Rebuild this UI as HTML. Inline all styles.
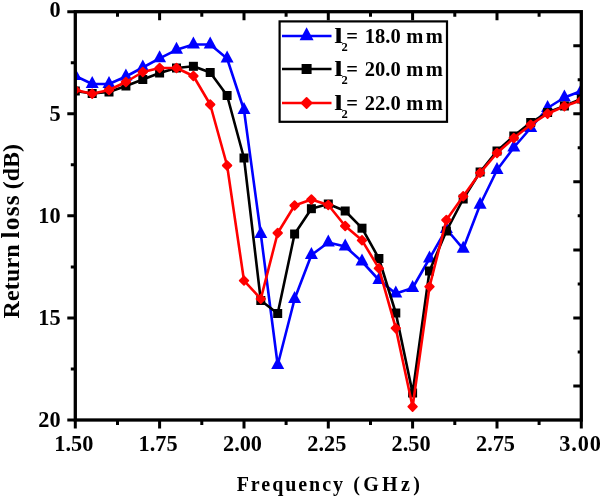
<!DOCTYPE html>
<html><head><meta charset="utf-8"><title>Return loss</title>
<style>html,body{margin:0;padding:0;background:#fff}svg{display:block}</style></head>
<body><svg width="600" height="499" viewBox="0 0 600 499">
<defs><clipPath id="pc"><rect x="75.3" y="11.7" width="505.99999999999994" height="408.3"/></clipPath></defs>
<rect width="600" height="499" fill="#fff"/>
<g clip-path="url(#pc)">
<polyline points="75.3,76.0 92.2,84.0 109.0,84.0 125.9,76.5 142.8,67.5 159.6,58.3 176.5,49.8 193.4,44.5 210.2,44.5 227.1,58.5 244.0,110.0 260.8,234.0 277.7,365.0 294.6,299.0 311.4,255.0 328.3,242.5 345.2,246.5 362.0,261.5 378.9,280.0 395.8,293.5 412.6,288.0 429.5,258.5 446.4,229.0 463.2,248.8 480.1,204.8 497.0,170.0 513.8,147.5 530.7,128.0 547.6,108.0 564.4,97.5 581.3,91.0" fill="none" stroke="#0000ff" stroke-width="2.6" stroke-linejoin="round"/>
<polygon points="75.3,68.0 68.8,80.0 81.8,80.0" fill="#0000ff"/>
<polygon points="92.2,76.0 85.7,88.0 98.7,88.0" fill="#0000ff"/>
<polygon points="109.0,76.0 102.5,88.0 115.5,88.0" fill="#0000ff"/>
<polygon points="125.9,68.5 119.4,80.5 132.4,80.5" fill="#0000ff"/>
<polygon points="142.8,59.5 136.3,71.5 149.3,71.5" fill="#0000ff"/>
<polygon points="159.6,50.3 153.1,62.3 166.1,62.3" fill="#0000ff"/>
<polygon points="176.5,41.8 170.0,53.8 183.0,53.8" fill="#0000ff"/>
<polygon points="193.4,36.5 186.9,48.5 199.9,48.5" fill="#0000ff"/>
<polygon points="210.2,36.5 203.7,48.5 216.7,48.5" fill="#0000ff"/>
<polygon points="227.1,50.5 220.6,62.5 233.6,62.5" fill="#0000ff"/>
<polygon points="244.0,102.0 237.5,114.0 250.5,114.0" fill="#0000ff"/>
<polygon points="260.8,226.0 254.3,238.0 267.3,238.0" fill="#0000ff"/>
<polygon points="277.7,357.0 271.2,369.0 284.2,369.0" fill="#0000ff"/>
<polygon points="294.6,291.0 288.1,303.0 301.1,303.0" fill="#0000ff"/>
<polygon points="311.4,247.0 304.9,259.0 317.9,259.0" fill="#0000ff"/>
<polygon points="328.3,234.5 321.8,246.5 334.8,246.5" fill="#0000ff"/>
<polygon points="345.2,238.5 338.7,250.5 351.7,250.5" fill="#0000ff"/>
<polygon points="362.0,253.5 355.5,265.5 368.5,265.5" fill="#0000ff"/>
<polygon points="378.9,272.0 372.4,284.0 385.4,284.0" fill="#0000ff"/>
<polygon points="395.8,285.5 389.3,297.5 402.3,297.5" fill="#0000ff"/>
<polygon points="412.6,280.0 406.1,292.0 419.1,292.0" fill="#0000ff"/>
<polygon points="429.5,250.5 423.0,262.5 436.0,262.5" fill="#0000ff"/>
<polygon points="446.4,221.0 439.9,233.0 452.9,233.0" fill="#0000ff"/>
<polygon points="463.2,240.8 456.7,252.8 469.7,252.8" fill="#0000ff"/>
<polygon points="480.1,196.8 473.6,208.8 486.6,208.8" fill="#0000ff"/>
<polygon points="497.0,162.0 490.5,174.0 503.5,174.0" fill="#0000ff"/>
<polygon points="513.8,139.5 507.3,151.5 520.3,151.5" fill="#0000ff"/>
<polygon points="530.7,120.0 524.2,132.0 537.2,132.0" fill="#0000ff"/>
<polygon points="547.6,100.0 541.1,112.0 554.1,112.0" fill="#0000ff"/>
<polygon points="564.4,89.5 557.9,101.5 570.9,101.5" fill="#0000ff"/>
<polygon points="581.3,83.0 574.8,95.0 587.8,95.0" fill="#0000ff"/>
<polyline points="75.3,91.0 92.2,93.5 109.0,92.0 125.9,86.0 142.8,79.5 159.6,73.0 176.5,68.0 193.4,66.3 210.2,72.5 227.1,95.5 244.0,158.0 260.8,300.5 277.7,313.5 294.6,234.0 311.4,208.8 328.3,204.0 345.2,211.0 362.0,228.2 378.9,258.5 395.8,313.0 412.6,393.0 429.5,271.0 446.4,231.0 463.2,199.0 480.1,172.0 497.0,151.0 513.8,136.0 530.7,122.5 547.6,112.5 564.4,106.0 581.3,99.0" fill="none" stroke="#000000" stroke-width="2.6" stroke-linejoin="round"/>
<rect x="70.8" y="86.5" width="9" height="9" fill="#000000"/>
<rect x="87.7" y="89.0" width="9" height="9" fill="#000000"/>
<rect x="104.5" y="87.5" width="9" height="9" fill="#000000"/>
<rect x="121.4" y="81.5" width="9" height="9" fill="#000000"/>
<rect x="138.3" y="75.0" width="9" height="9" fill="#000000"/>
<rect x="155.1" y="68.5" width="9" height="9" fill="#000000"/>
<rect x="172.0" y="63.5" width="9" height="9" fill="#000000"/>
<rect x="188.9" y="61.8" width="9" height="9" fill="#000000"/>
<rect x="205.7" y="68.0" width="9" height="9" fill="#000000"/>
<rect x="222.6" y="91.0" width="9" height="9" fill="#000000"/>
<rect x="239.5" y="153.5" width="9" height="9" fill="#000000"/>
<rect x="256.3" y="296.0" width="9" height="9" fill="#000000"/>
<rect x="273.2" y="309.0" width="9" height="9" fill="#000000"/>
<rect x="290.1" y="229.5" width="9" height="9" fill="#000000"/>
<rect x="306.9" y="204.2" width="9" height="9" fill="#000000"/>
<rect x="323.8" y="199.5" width="9" height="9" fill="#000000"/>
<rect x="340.7" y="206.5" width="9" height="9" fill="#000000"/>
<rect x="357.5" y="223.7" width="9" height="9" fill="#000000"/>
<rect x="374.4" y="254.0" width="9" height="9" fill="#000000"/>
<rect x="391.3" y="308.5" width="9" height="9" fill="#000000"/>
<rect x="408.1" y="388.5" width="9" height="9" fill="#000000"/>
<rect x="425.0" y="266.5" width="9" height="9" fill="#000000"/>
<rect x="441.9" y="226.5" width="9" height="9" fill="#000000"/>
<rect x="458.7" y="194.5" width="9" height="9" fill="#000000"/>
<rect x="475.6" y="167.5" width="9" height="9" fill="#000000"/>
<rect x="492.5" y="146.5" width="9" height="9" fill="#000000"/>
<rect x="509.3" y="131.5" width="9" height="9" fill="#000000"/>
<rect x="526.2" y="118.0" width="9" height="9" fill="#000000"/>
<rect x="543.1" y="108.0" width="9" height="9" fill="#000000"/>
<rect x="559.9" y="101.5" width="9" height="9" fill="#000000"/>
<rect x="576.8" y="94.5" width="9" height="9" fill="#000000"/>
<polyline points="75.3,90.0 92.2,93.8 109.0,90.0 125.9,82.0 142.8,72.0 159.6,68.0 176.5,68.0 193.4,76.0 210.2,104.5 227.1,165.5 244.0,280.6 260.8,298.9 277.7,233.0 294.6,205.5 311.4,199.5 328.3,205.0 345.2,226.0 362.0,240.3 378.9,268.3 395.8,328.2 412.6,406.7 429.5,286.7 446.4,220.0 463.2,196.3 480.1,172.8 497.0,153.0 513.8,138.0 530.7,124.7 547.6,113.7 564.4,106.2 581.3,100.2" fill="none" stroke="#ff0000" stroke-width="2.6" stroke-linejoin="round"/>
<polygon points="75.3,85.7 79.6,90.0 75.3,94.3 71.0,90.0" fill="#ff0000" stroke="#ff0000" stroke-width="1.8" stroke-linejoin="round"/>
<polygon points="92.2,89.5 96.5,93.8 92.2,98.0 87.9,93.8" fill="#ff0000" stroke="#ff0000" stroke-width="1.8" stroke-linejoin="round"/>
<polygon points="109.0,85.7 113.3,90.0 109.0,94.3 104.7,90.0" fill="#ff0000" stroke="#ff0000" stroke-width="1.8" stroke-linejoin="round"/>
<polygon points="125.9,77.7 130.2,82.0 125.9,86.3 121.6,82.0" fill="#ff0000" stroke="#ff0000" stroke-width="1.8" stroke-linejoin="round"/>
<polygon points="142.8,67.7 147.1,72.0 142.8,76.3 138.5,72.0" fill="#ff0000" stroke="#ff0000" stroke-width="1.8" stroke-linejoin="round"/>
<polygon points="159.6,63.7 163.9,68.0 159.6,72.3 155.3,68.0" fill="#ff0000" stroke="#ff0000" stroke-width="1.8" stroke-linejoin="round"/>
<polygon points="176.5,63.7 180.8,68.0 176.5,72.3 172.2,68.0" fill="#ff0000" stroke="#ff0000" stroke-width="1.8" stroke-linejoin="round"/>
<polygon points="193.4,71.7 197.7,76.0 193.4,80.3 189.1,76.0" fill="#ff0000" stroke="#ff0000" stroke-width="1.8" stroke-linejoin="round"/>
<polygon points="210.2,100.2 214.5,104.5 210.2,108.8 205.9,104.5" fill="#ff0000" stroke="#ff0000" stroke-width="1.8" stroke-linejoin="round"/>
<polygon points="227.1,161.2 231.4,165.5 227.1,169.8 222.8,165.5" fill="#ff0000" stroke="#ff0000" stroke-width="1.8" stroke-linejoin="round"/>
<polygon points="244.0,276.3 248.3,280.6 244.0,284.9 239.7,280.6" fill="#ff0000" stroke="#ff0000" stroke-width="1.8" stroke-linejoin="round"/>
<polygon points="260.8,294.6 265.1,298.9 260.8,303.2 256.5,298.9" fill="#ff0000" stroke="#ff0000" stroke-width="1.8" stroke-linejoin="round"/>
<polygon points="277.7,228.7 282.0,233.0 277.7,237.3 273.4,233.0" fill="#ff0000" stroke="#ff0000" stroke-width="1.8" stroke-linejoin="round"/>
<polygon points="294.6,201.2 298.9,205.5 294.6,209.8 290.3,205.5" fill="#ff0000" stroke="#ff0000" stroke-width="1.8" stroke-linejoin="round"/>
<polygon points="311.4,195.2 315.7,199.5 311.4,203.8 307.1,199.5" fill="#ff0000" stroke="#ff0000" stroke-width="1.8" stroke-linejoin="round"/>
<polygon points="328.3,200.7 332.6,205.0 328.3,209.3 324.0,205.0" fill="#ff0000" stroke="#ff0000" stroke-width="1.8" stroke-linejoin="round"/>
<polygon points="345.2,221.7 349.5,226.0 345.2,230.3 340.9,226.0" fill="#ff0000" stroke="#ff0000" stroke-width="1.8" stroke-linejoin="round"/>
<polygon points="362.0,236.0 366.3,240.3 362.0,244.6 357.7,240.3" fill="#ff0000" stroke="#ff0000" stroke-width="1.8" stroke-linejoin="round"/>
<polygon points="378.9,264.0 383.2,268.3 378.9,272.6 374.6,268.3" fill="#ff0000" stroke="#ff0000" stroke-width="1.8" stroke-linejoin="round"/>
<polygon points="395.8,323.9 400.1,328.2 395.8,332.5 391.5,328.2" fill="#ff0000" stroke="#ff0000" stroke-width="1.8" stroke-linejoin="round"/>
<polygon points="412.6,402.4 416.9,406.7 412.6,411.0 408.3,406.7" fill="#ff0000" stroke="#ff0000" stroke-width="1.8" stroke-linejoin="round"/>
<polygon points="429.5,282.4 433.8,286.7 429.5,291.0 425.2,286.7" fill="#ff0000" stroke="#ff0000" stroke-width="1.8" stroke-linejoin="round"/>
<polygon points="446.4,215.7 450.7,220.0 446.4,224.3 442.1,220.0" fill="#ff0000" stroke="#ff0000" stroke-width="1.8" stroke-linejoin="round"/>
<polygon points="463.2,192.0 467.5,196.3 463.2,200.6 458.9,196.3" fill="#ff0000" stroke="#ff0000" stroke-width="1.8" stroke-linejoin="round"/>
<polygon points="480.1,168.5 484.4,172.8 480.1,177.1 475.8,172.8" fill="#ff0000" stroke="#ff0000" stroke-width="1.8" stroke-linejoin="round"/>
<polygon points="497.0,148.7 501.3,153.0 497.0,157.3 492.7,153.0" fill="#ff0000" stroke="#ff0000" stroke-width="1.8" stroke-linejoin="round"/>
<polygon points="513.8,133.7 518.1,138.0 513.8,142.3 509.5,138.0" fill="#ff0000" stroke="#ff0000" stroke-width="1.8" stroke-linejoin="round"/>
<polygon points="530.7,120.4 535.0,124.7 530.7,129.0 526.4,124.7" fill="#ff0000" stroke="#ff0000" stroke-width="1.8" stroke-linejoin="round"/>
<polygon points="547.6,109.4 551.9,113.7 547.6,118.0 543.3,113.7" fill="#ff0000" stroke="#ff0000" stroke-width="1.8" stroke-linejoin="round"/>
<polygon points="564.4,101.9 568.7,106.2 564.4,110.5 560.1,106.2" fill="#ff0000" stroke="#ff0000" stroke-width="1.8" stroke-linejoin="round"/>
<polygon points="581.3,95.9 585.6,100.2 581.3,104.5 577.0,100.2" fill="#ff0000" stroke="#ff0000" stroke-width="1.8" stroke-linejoin="round"/>
</g>
<rect x="75.3" y="11.7" width="505.99999999999994" height="408.3" fill="none" stroke="#000" stroke-width="3.3"/>
<path d="M75.3,420.0 v8.5 M117.5,420.0 v5 M117.5,11.7 v5 M159.6,420.0 v8.5 M159.6,11.7 v8.5 M201.8,420.0 v5 M201.8,11.7 v5 M244.0,420.0 v8.5 M244.0,11.7 v8.5 M286.1,420.0 v5 M286.1,11.7 v5 M328.3,420.0 v8.5 M328.3,11.7 v8.5 M370.5,420.0 v5 M370.5,11.7 v5 M412.6,420.0 v8.5 M412.6,11.7 v8.5 M454.8,420.0 v5 M454.8,11.7 v5 M497.0,420.0 v8.5 M497.0,11.7 v8.5 M539.1,420.0 v5 M539.1,11.7 v5 M581.3,420.0 v8.5 M75.3,11.7 h-8 M75.3,62.7 h-4.5 M75.3,113.8 h-8 M75.3,164.8 h-4.5 M75.3,215.8 h-8 M75.3,266.9 h-4.5 M75.3,317.9 h-8 M75.3,369.0 h-4.5 M75.3,420.0 h-8 M581.3,45.7 h-8 M581.3,79.8 h-3.6 M581.3,113.8 h-8 M581.3,147.8 h-3.6 M581.3,181.8 h-8 M581.3,215.8 h-3.6 M581.3,249.9 h-8 M581.3,283.9 h-3.6 M581.3,317.9 h-8 M581.3,351.9 h-3.6 M581.3,386.0 h-8" stroke="#000" stroke-width="3.0" fill="none"/>
<text x="73.8" y="451.3" text-anchor="middle" font-size="22.3" font-family="Liberation Serif, serif" font-weight="bold">1.50</text>
<text x="158.1" y="451.3" text-anchor="middle" font-size="22.3" font-family="Liberation Serif, serif" font-weight="bold">1.75</text>
<text x="242.5" y="451.3" text-anchor="middle" font-size="22.3" font-family="Liberation Serif, serif" font-weight="bold">2.00</text>
<text x="326.8" y="451.3" text-anchor="middle" font-size="22.3" font-family="Liberation Serif, serif" font-weight="bold">2.25</text>
<text x="411.1" y="451.3" text-anchor="middle" font-size="22.3" font-family="Liberation Serif, serif" font-weight="bold">2.50</text>
<text x="495.5" y="451.3" text-anchor="middle" font-size="22.3" font-family="Liberation Serif, serif" font-weight="bold">2.75</text>
<text x="559.3" y="451.3" font-size="22.3" letter-spacing="0.9" font-family="Liberation Serif, serif" font-weight="bold">3.00</text>
<text x="60.6" y="17.0" text-anchor="end" font-size="22.3" font-family="Liberation Serif, serif" font-weight="bold">0</text>
<text x="60.6" y="121.0" text-anchor="end" font-size="22.3" font-family="Liberation Serif, serif" font-weight="bold">5</text>
<text x="60.6" y="223.0" text-anchor="end" font-size="22.3" font-family="Liberation Serif, serif" font-weight="bold">10</text>
<text x="60.6" y="325.1" text-anchor="end" font-size="22.3" font-family="Liberation Serif, serif" font-weight="bold">15</text>
<text x="60.6" y="427.2" text-anchor="end" font-size="22.3" font-family="Liberation Serif, serif" font-weight="bold">20</text>
<text y="491" font-size="20" font-family="Liberation Serif, serif" font-weight="bold"><tspan x="236.7" letter-spacing="1.95">Frequency</tspan><tspan x="353.3" letter-spacing="3.3">(GHz)</tspan></text>
<text transform="translate(19.1,0) rotate(-90)" y="0" font-size="24" font-family="Liberation Serif, serif" font-weight="bold"><tspan x="-318.5" letter-spacing="0.15">Return</tspan><tspan x="-238.5" letter-spacing="1.2" font-size="25.5">loss</tspan><tspan x="-189.3">(dB)</tspan></text>
<rect x="279.6" y="21.4" width="167.4" height="100.4" fill="#fff" stroke="#000" stroke-width="2.2"/>
<line x1="282" y1="36" x2="331.5" y2="36" stroke="#0000ff" stroke-width="2.6"/>
<polygon points="306.6,27.3 299.6,40.3 313.6,40.3" fill="#0000ff"/>
<text transform="translate(334.2,42.6) scale(1.55,1.06)" font-size="20" font-family="Liberation Serif, serif" font-weight="bold">l</text><text y="42.6" font-size="20.5" font-family="Liberation Serif, serif" font-weight="bold"><tspan x="341.6" dy="8.6" font-size="12.5">2</tspan><tspan x="346.2" dy="-8.6">=</tspan><tspan x="364.8" letter-spacing="0">18.0</tspan><tspan x="406.3" letter-spacing="2.4">mm</tspan></text>
<line x1="282" y1="69" x2="331.5" y2="69" stroke="#000000" stroke-width="2.6"/>
<rect x="301.6" y="64.0" width="10" height="10" fill="#000000"/>
<text transform="translate(334.2,75.6) scale(1.55,1.06)" font-size="20" font-family="Liberation Serif, serif" font-weight="bold">l</text><text y="75.6" font-size="20.5" font-family="Liberation Serif, serif" font-weight="bold"><tspan x="341.6" dy="8.6" font-size="12.5">2</tspan><tspan x="346.2" dy="-8.6">=</tspan><tspan x="364.8" letter-spacing="0">20.0</tspan><tspan x="406.3" letter-spacing="2.4">mm</tspan></text>
<line x1="282" y1="103" x2="331.5" y2="103" stroke="#ff0000" stroke-width="2.6"/>
<polygon points="306.6,98.0 311.6,103.0 306.6,108.0 301.6,103.0" fill="#ff0000" stroke="#ff0000" stroke-width="1.8" stroke-linejoin="round"/>
<text transform="translate(334.2,109.6) scale(1.55,1.06)" font-size="20" font-family="Liberation Serif, serif" font-weight="bold">l</text><text y="109.6" font-size="20.5" font-family="Liberation Serif, serif" font-weight="bold"><tspan x="341.6" dy="8.6" font-size="12.5">2</tspan><tspan x="346.2" dy="-8.6">=</tspan><tspan x="364.8" letter-spacing="0">22.0</tspan><tspan x="406.3" letter-spacing="2.4">mm</tspan></text>
</svg></body></html>
